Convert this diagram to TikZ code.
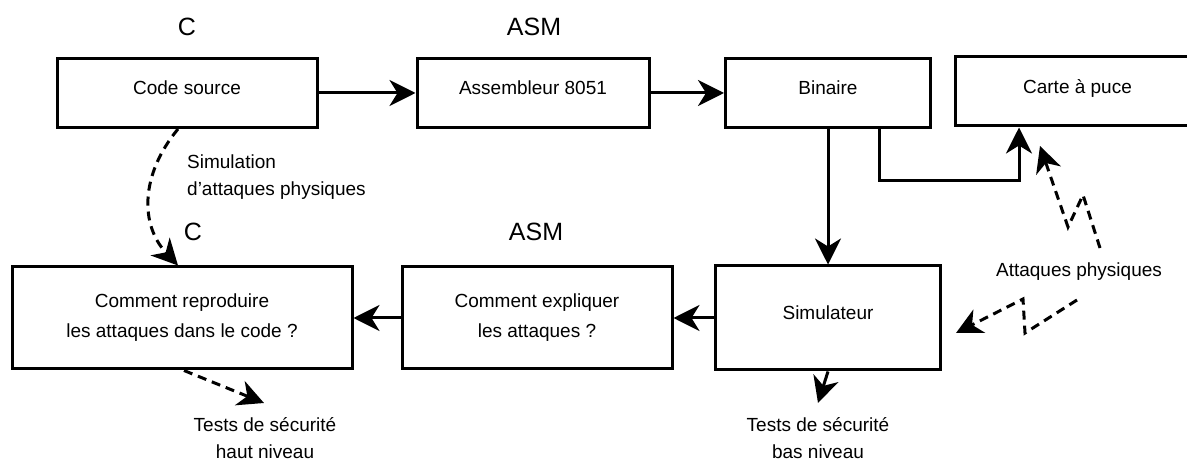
\documentclass[tikz,border=0pt]{standalone}
\usepackage{fontspec}
\setmainfont{Liberation Sans}
\usetikzlibrary{arrows.meta,calc}
\begin{document}
\begin{tikzpicture}[x=1pt,y=-1pt,
  box/.style={draw,line width=3pt,inner sep=0pt,font=\fontsize{19}{30}\selectfont,align=center},
  topbox/.style={box,text depth=10pt},
  lbl/.style={font=\fontsize{25}{30}\selectfont,inner sep=0pt},
  txt/.style={font=\fontsize{19}{27}\selectfont,inner sep=0pt},
  arr/.style={line width=3pt,-{Stealth[length=26pt,width=26pt,inset=8pt]}},
  darr/.style={arr,dash pattern=on 9pt off 6pt}]
\useasboundingbox (0,0) rectangle (1187,462);
% top row
\node[topbox,minimum width=260pt,minimum height=69pt] (cs) at (187,93) {Code source};
\node[topbox,minimum width=232pt,minimum height=69pt] (asm) at (533,93) {Assembleur 8051};
\node[topbox,minimum width=205pt,minimum height=69pt] (bin) at (828,93) {Binaire};
\node[topbox,minimum width=245pt,minimum height=69pt] (carte) at (1077.5,91.5) {Carte à puce};
\node[lbl] (lc1) at (187,27) {C};
\node[lbl] (la1) at (534,27) {ASM};
% bottom row
\node[box,minimum width=340pt,minimum height=102pt] (rep) at (182,318) {Comment reproduire\\les attaques dans le code ?};
\node[box,minimum width=270pt,minimum height=102pt] (expl) at (537,318) {Comment expliquer\\les attaques ?};
\node[topbox,minimum width=225pt,minimum height=104pt] (sim) at (828,318) {Simulateur};
\node[lbl] (lc2) at (193,232) {C};
\node[lbl] (la2) at (536,232) {ASM};
% texts
\node[txt,align=left,anchor=west] (simtxt) at (187,177.5) {Simulation\\d’attaques physiques};
\node[txt] (att) at (1079,272) {Attaques physiques};
\node[txt,align=center] (th) at (265,438.5) {Tests de sécurité\\haut niveau};
\node[txt,align=center] (tb) at (818,438.5) {Tests de sécurité\\bas niveau};
% coordinates
\coordinate (e1) at (1019,181);
\coordinate (ht) at (264,403);
\coordinate (bt) at (818,403);
\coordinate (u0) at (1100,248);
\coordinate (u1) at (1083,195);
\coordinate (u2) at (1068,227);
\coordinate (u3) at (1040,146);
\coordinate (l0) at (1077,300);
\coordinate (l1) at (1025,333);
\coordinate (l2) at (1023,299);
\coordinate (l3) at (956,333);
% connectors
\draw[arr] (cs) -- (asm);
\draw[arr] (asm) -- (bin);
\draw[arr] (bin.south) -- (sim.north);
\draw[arr] ([xshift=51pt]bin.south) |- (e1) -- (e1 |- carte.south);
\draw[arr] (sim.west) -- (sim.west -| expl.east);
\draw[arr] (expl.west) -- (expl.west -| rep.east);
\draw[arr] (sim.south) -- (bt);
\draw[darr] ([xshift=2pt]rep.south) -- (ht);
\draw[darr] ([xshift=-9pt]cs.south) .. controls (140,175) and (140,225) .. ([xshift=-4pt]rep.north);
\draw[darr] (u0) -- (u1) -- (u2) -- (u3);
\draw[darr] (l0) -- (l1) -- (l2) -- (l3);
\end{tikzpicture}
\end{document}
